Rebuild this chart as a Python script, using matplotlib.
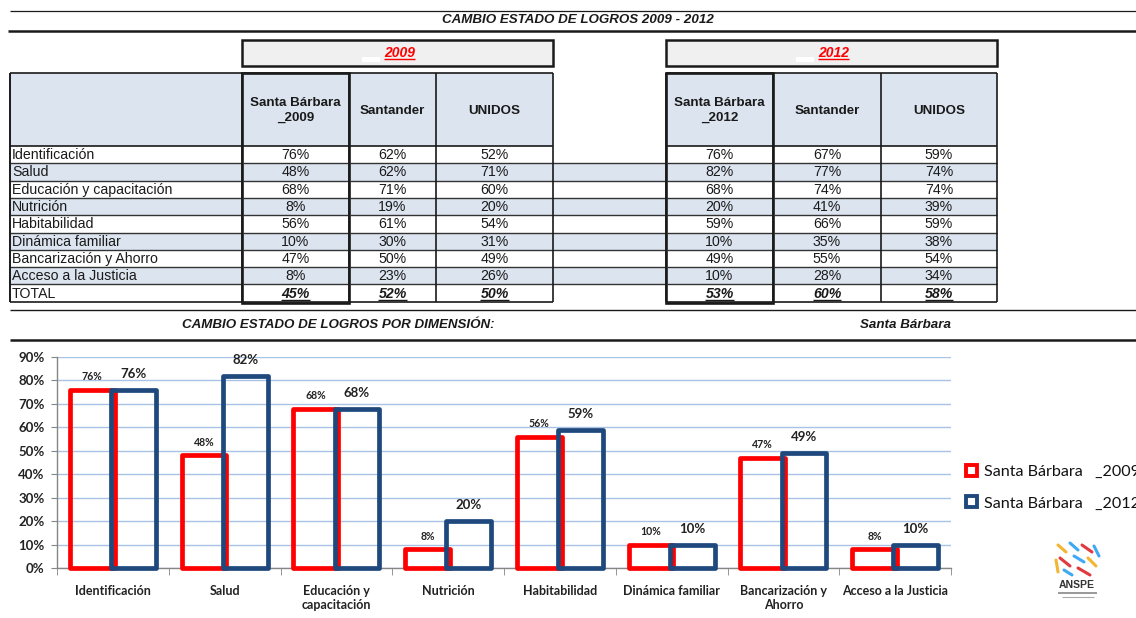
import matplotlib.pyplot as plt
import numpy as np
from matplotlib.patches import Rectangle
from matplotlib.ticker import PercentFormatter

# ---------------------------------------------------------------------------
# Datos (leídos de la tabla y del gráfico)
# ---------------------------------------------------------------------------
DIMENSIONES = [
    "Identificación", "Salud", "Educación y capacitación", "Nutrición",
    "Habitabilidad", "Dinámica familiar", "Bancarización y Ahorro",
    "Acceso a la Justicia",
]
ETIQUETAS_EJE = [
    "Identificación", "Salud", "Educación y\ncapacitación", "Nutrición",
    "Habitabilidad", "Dinámica familiar", "Bancarización y\nAhorro",
    "Acceso a la Justicia",
]
SB_2009 = [76, 48, 68, 8, 56, 10, 47, 8]
SANTANDER_2009 = [62, 62, 71, 19, 61, 30, 50, 23]
UNIDOS_2009 = [52, 71, 60, 20, 54, 31, 49, 26]
SB_2012 = [76, 82, 68, 20, 59, 10, 49, 10]
SANTANDER_2012 = [67, 77, 74, 41, 66, 35, 55, 28]
UNIDOS_2012 = [59, 74, 74, 39, 59, 38, 54, 34]
TOTAL_2009 = [45, 52, 50]
TOTAL_2012 = [53, 60, 58]
COLS_2009 = ["Santa Bárbara\n_2009", "Santander", "UNIDOS"]
COLS_2012 = ["Santa Bárbara\n_2012", "Santander", "UNIDOS"]
SERIES = ["Santa Bárbara   _2009", "Santa Bárbara   _2012"]

RED = "#ff0000"
BLUE = "#1f497d"
HEAD = "#dce4f0"
SHADE = "#dce4f0"
BOX = "#f0f0f0"
INK = "#1a1a1a"
TFONT = "Liberation Sans"
CFONT = "Lato"

W, H = 1136, 618
fig = plt.figure(figsize=(W / 100, H / 100), dpi=100)
fig.patch.set_facecolor("white")

# lienzo en coordenadas de pixel para la tabla
bg = fig.add_axes([0, 0, 1, 1])
bg.set_xlim(0, W)
bg.set_ylim(H, 0)
bg.axis("off")


def hline(y, x0, x1, lw=1.0, color=INK):
    bg.plot([x0, x1], [y, y], color=color, lw=lw, solid_capstyle="butt")


def vline(x, y0, y1, lw=1.0, color=INK):
    bg.plot([x, x], [y0, y1], color=color, lw=lw, solid_capstyle="butt")


# ---------------------------------------------------------------------------
# Encabezado general
# ---------------------------------------------------------------------------
hline(10.5, 10, W, lw=0.9)
hline(30.5, 8, W, lw=1.8)
bg.text(578, 20, "CAMBIO ESTADO DE LOGROS 2009 - 2012", ha="center", va="center",
        fontsize=9.6, fontweight="bold", fontstyle="italic", family=TFONT, color=INK)

LEFT_COLS = [242, 349, 436, 553]
RIGHT_COLS = [666, 773, 881, 997]
HEAD_TOP, HEAD_BOT = 73, 146
ROW_H = 17.3
n_rows = len(DIMENSIONES) + 1
TAB_BOT = HEAD_BOT + ROW_H * n_rows

under = []

for cols, year in [(LEFT_COLS, "2009"), (RIGHT_COLS, "2012")]:
    bg.add_patch(Rectangle((cols[0], 40), cols[-1] - cols[0], 26, facecolor=BOX,
                           edgecolor=INK, lw=1.8))
    cx = (cols[0] + cols[-1]) / 2
    bg.add_patch(Rectangle((cx - 36, 57), 18, 5, facecolor="white", edgecolor="none"))
    t = bg.text(cx + 2, 53, year, ha="center", va="center", fontsize=10,
                fontweight="bold", fontstyle="italic", family=TFONT, color=RED)
    under.append((t, RED))

# fondos de encabezado
bg.add_patch(Rectangle((10, HEAD_TOP), LEFT_COLS[-1] - 10, HEAD_BOT - HEAD_TOP,
                       facecolor=HEAD, edgecolor="none"))
bg.add_patch(Rectangle((RIGHT_COLS[0], HEAD_TOP), RIGHT_COLS[-1] - RIGHT_COLS[0],
                       HEAD_BOT - HEAD_TOP, facecolor=HEAD, edgecolor="none"))

# filas sombreadas
for i in range(n_rows):
    y0 = HEAD_BOT + i * ROW_H
    if i % 2 == 1:
        bg.add_patch(Rectangle((10, y0), RIGHT_COLS[-1] - 10, ROW_H,
                               facecolor=SHADE, edgecolor="none"))

# lineas horizontales
for x0, x1 in [(10, LEFT_COLS[-1]), (RIGHT_COLS[0], RIGHT_COLS[-1])]:
    hline(HEAD_TOP, x0, x1, lw=1.2)
    hline(HEAD_BOT, x0, x1, lw=1.2)
    hline(TAB_BOT, x0, x1, lw=1.2)
for i in range(1, n_rows):
    hline(HEAD_BOT + i * ROW_H, 10, RIGHT_COLS[-1], lw=1.0, color="#333333")

# lineas verticales
vline(10, HEAD_TOP, TAB_BOT, lw=1.4)
for x in LEFT_COLS + RIGHT_COLS:
    vline(x, HEAD_TOP, TAB_BOT, lw=1.2)
for cols in (LEFT_COLS, RIGHT_COLS):
    bg.add_patch(Rectangle((cols[0], HEAD_TOP), cols[1] - cols[0], TAB_BOT - HEAD_TOP + 1.5,
                           facecolor="none", edgecolor=INK, lw=1.9))

# textos de encabezado
for cols, names in [(LEFT_COLS, COLS_2009), (RIGHT_COLS, COLS_2012)]:
    for j, name in enumerate(names):
        bg.text((cols[j] + cols[j + 1]) / 2, (HEAD_TOP + HEAD_BOT) / 2 + 1, name,
                ha="center", va="center", fontsize=9.6, fontweight="bold",
                family=TFONT, color=INK, linespacing=1.3)

# filas de datos
data_2009 = [SB_2009, SANTANDER_2009, UNIDOS_2009]
data_2012 = [SB_2012, SANTANDER_2012, UNIDOS_2012]
labels = DIMENSIONES + ["TOTAL"]
for i, lab in enumerate(labels):
    yc = HEAD_BOT + (i + 0.5) * ROW_H + 0.5
    bg.text(12, yc, lab, ha="left", va="center", fontsize=10.2, family=TFONT, color=INK)
    for cols, data, tot in [(LEFT_COLS, data_2009, TOTAL_2009),
                            (RIGHT_COLS, data_2012, TOTAL_2012)]:
        for j in range(3):
            xc = (cols[j] + cols[j + 1]) / 2
            if i < len(DIMENSIONES):
                bg.text(xc, yc, f"{data[j][i]}%", ha="center", va="center",
                        fontsize=10.2, family=TFONT, color=INK)
            else:
                t = bg.text(xc, yc, f"{tot[j]}%", ha="center", va="center",
                            fontsize=10.2, family=TFONT, color=INK,
                            fontweight="bold", fontstyle="italic")
                under.append((t, INK))

# subtitulo del grafico
hline(310, 10, W, lw=1.0)
hline(339.5, 10, W, lw=1.8)
bg.text(338, 325, "CAMBIO ESTADO DE LOGROS POR DIMENSIÓN:", ha="center", va="center",
        fontsize=9.6, fontweight="bold", fontstyle="italic", family=TFONT, color=INK)
bg.text(906, 325, "Santa Bárbara", ha="center", va="center",
        fontsize=9.6, fontweight="bold", fontstyle="italic", family=TFONT, color=INK)

# logo ANSPE (aproximado)
for (xa, ya, xb, yb, c) in [
    (1058, 545, 1066, 552, "#f2b632"), (1070, 543, 1078, 550, "#3fa9f5"),
    (1082, 545, 1092, 552, "#e03a3e"), (1060, 558, 1070, 566, "#e03a3e"),
    (1074, 556, 1084, 562, "#3fa9f5"), (1088, 558, 1096, 566, "#f2b632"),
    (1064, 570, 1072, 575, "#3fa9f5"), (1078, 568, 1090, 575, "#e03a3e"),
    (1094, 546, 1099, 556, "#3fa9f5"), (1056, 560, 1058, 572, "#f2b632"),
]:
    bg.plot([xa, xb], [ya, yb], color=c, lw=2.2, solid_capstyle="round")
bg.text(1077, 585, "ANSPE", ha="center", va="center", fontsize=7.5,
        fontweight="bold", family=TFONT, color="#333333")
hline(593, 1058, 1097, lw=1.2, color="#888888")
hline(597, 1062, 1094, lw=0.8, color="#aaaaaa")

# ---------------------------------------------------------------------------
# Grafico de barras
# ---------------------------------------------------------------------------
ax_l, ax_r, ax_t, ax_b = 57, 951, 357, 568
ax = fig.add_axes([ax_l / W, 1 - ax_b / H, (ax_r - ax_l) / W, (ax_b - ax_t) / H])
ax.set_facecolor("none")

x = np.arange(len(DIMENSIONES))
width, off = 0.40, 0.185
v09 = np.array(SB_2009) / 100
v12 = np.array(SB_2012) / 100
b1 = ax.bar(x - off, v09, width, facecolor="none", edgecolor=RED, lw=3.4,
            clip_on=False, zorder=3, label=SERIES[0])
b2 = ax.bar(x + off, v12, width, facecolor="none", edgecolor=BLUE, lw=3.4,
            clip_on=False, zorder=4, label=SERIES[1])
for p in list(b1) + list(b2):
    p.set_joinstyle("round")

for xi, v in zip(x - off, v09):
    ax.annotate(f"{round(v * 100)}%", (xi, v), xytext=(0, 9.5), textcoords="offset points",
                ha="center", va="center", fontsize=7.6, fontweight="bold",
                family=CFONT, color="#222222")
for xi, v in zip(x + off, v12):
    ax.annotate(f"{round(v * 100)}%", (xi, v), xytext=(0, 11.5), textcoords="offset points",
                ha="center", va="center", fontsize=9.5, fontweight="bold",
                family=CFONT, color="#222222")

ax.set_xlim(-0.5, len(DIMENSIONES) - 0.5)
ax.set_ylim(0, 0.9)
ax.set_yticks(np.arange(0, 0.91, 0.1))
ax.yaxis.set_major_formatter(PercentFormatter(1.0, decimals=0))
ax.grid(axis="y", color="#a9c3e6", lw=1.0, zorder=0)
ax.set_axisbelow(True)
ax.set_xticks(x)
ax.set_xticklabels(ETIQUETAS_EJE)
ax.set_xticks(np.arange(-0.5, len(DIMENSIONES)), minor=True)
ax.tick_params(axis="x", which="major", length=0, pad=12)
ax.tick_params(axis="x", which="minor", length=5, color="#868686", direction="out")
ax.tick_params(axis="y", length=4, color="#868686", pad=5)
for lab in ax.get_xticklabels():
    lab.set_family(CFONT)
    lab.set_fontsize(9)
    lab.set_fontweight("bold")
    lab.set_color("#222222")
    lab.set_verticalalignment("top")
for lab in ax.get_yticklabels():
    lab.set_family(CFONT)
    lab.set_fontsize(9.5)
    lab.set_fontweight("bold")
    lab.set_color("#222222")
for s in ("top", "right"):
    ax.spines[s].set_visible(False)
for s in ("left", "bottom"):
    ax.spines[s].set_color("#868686")
    ax.spines[s].set_linewidth(1.0)

# la leyenda queda cortada en el borde derecho, igual que en el original
leg = ax.legend(loc="upper left", bbox_to_anchor=(966 / W, 1 - 465 / H),
                bbox_transform=fig.transFigure, frameon=False,
                prop={"family": CFONT, "size": 11.6}, handlelength=0.7,
                handleheight=0.7, handletextpad=0.4, labelspacing=1.05,
                borderaxespad=0, borderpad=0)
for h in leg.legend_handles:
    h.set_linewidth(2.8)
for t in leg.get_texts():
    t.set_color("#111111")

# subrayados (calculados con el renderer)
fig.canvas.draw()
inv = bg.transData.inverted()
for t, c in under:
    bb = t.get_window_extent().transformed(inv)
    yb = max(bb.y0, bb.y1) - 1.0
    hline(yb, min(bb.x0, bb.x1), max(bb.x0, bb.x1), lw=1.0, color=c)

fig.savefig("out.png", dpi=100)
